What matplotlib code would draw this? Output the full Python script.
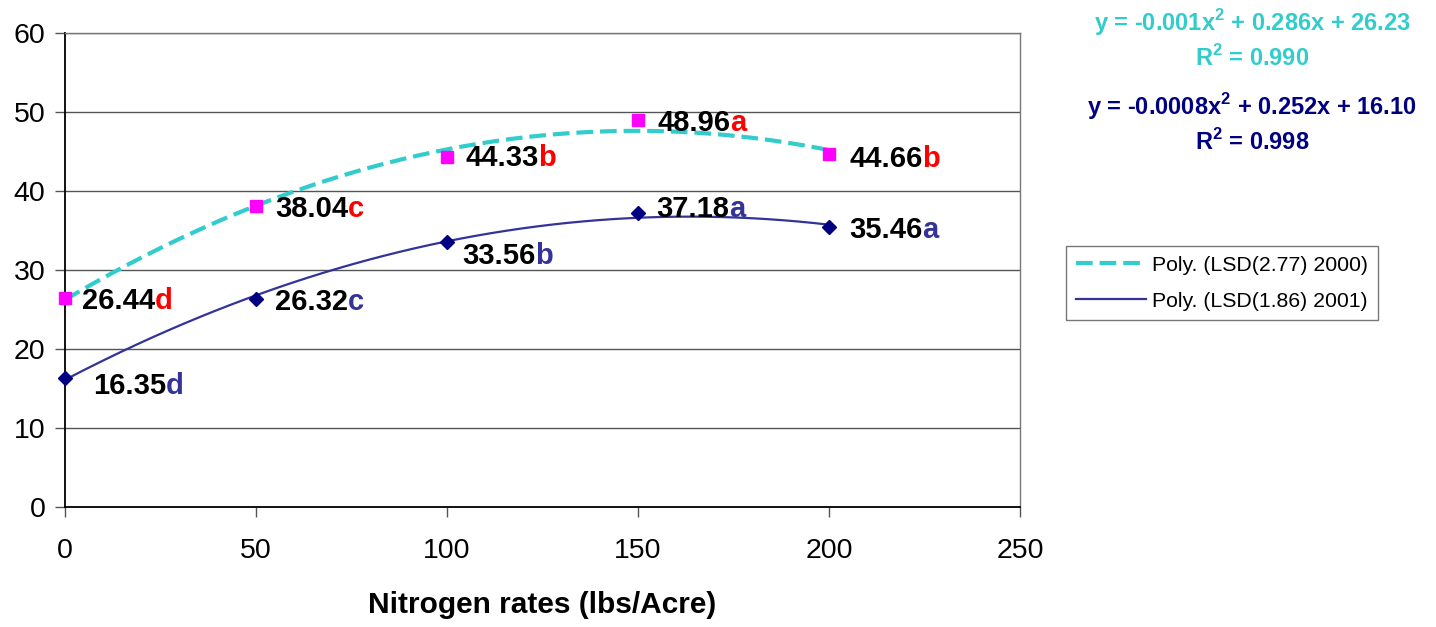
import numpy as np
import matplotlib
matplotlib.use('Agg')
import matplotlib.pyplot as plt

plt.rcParams['font.family'] = ['Liberation Sans', 'DejaVu Sans']
plt.rcParams['mathtext.fontset'] = 'custom'
plt.rcParams['mathtext.rm'] = 'Liberation Sans:bold'
plt.rcParams['mathtext.bf'] = 'Liberation Sans:bold'
plt.rcParams['lines.scale_dashes'] = False

# data
n_rates = [0, 50, 100, 150, 200]
yield_2000 = [26.44, 38.04, 44.33, 48.96, 44.66]
yield_2001 = [16.35, 26.32, 33.56, 37.18, 35.46]
letters_2000 = ['d', 'c', 'b', 'a', 'b']
letters_2001 = ['d', 'c', 'b', 'a', 'a']
legend_labels = ['Poly. (LSD(2.77) 2000)', 'Poly. (LSD(1.86) 2001)']
eq_2000 = 'y = -0.001x$^{2}$ + 0.286x + 26.23\nR$^{2}$ = 0.990'
eq_2001 = 'y = -0.0008x$^{2}$ + 0.252x + 16.10\nR$^{2}$ = 0.998'

# label offsets (pixels) from each point
offs_2000 = [(17, -3), (19, -3), (18, -1), (19, -3), (20, -5)]
offs_2001 = [(28, -8), (19, -3), (15, -14), (18, 4), (20, -3)]

cyan = '#33CCCC'
slate = '#333399'
red = '#FF0000'

fig = plt.figure(figsize=(14.36, 6.27), dpi=100)
ax = fig.add_axes([0.0453, 0.1914, 0.6650, 0.7560])

# polynomial trendlines (2nd order, like the spreadsheet)
xs = np.linspace(0, 200, 200)
c2000 = np.polyfit(n_rates, yield_2000, 2)
c2001 = np.polyfit(n_rates, yield_2001, 2)
l1, = ax.plot(xs, np.polyval(c2000, xs), color=cyan, lw=3, dashes=(12, 5), zorder=3)
l2, = ax.plot(xs, np.polyval(c2001, xs), color=slate, lw=1.6, zorder=3)

ax.plot(n_rates, yield_2000, ls='none', marker='s', ms=8, color='#FF00FF', zorder=4, clip_on=False)
ax.plot(n_rates, yield_2001, ls='none', marker='D', ms=7, color='#000080', zorder=4, clip_on=False)

def label_points(ys, letters, offs, lcolor):
    for x, y, let, off in zip(n_rates, ys, letters, offs):
        num = ax.annotate(f'{y:.2f}', xy=(x, y), xytext=off, textcoords='offset pixels',
                          ha='left', va='center', fontsize=21, fontweight='bold', color='black', zorder=5)
        ax.annotate(let, xy=(1, 0), xycoords=num, ha='left', va='bottom',
                    fontsize=21, fontweight='bold', color=lcolor, zorder=5)

label_points(yield_2000, letters_2000, offs_2000, red)
label_points(yield_2001, letters_2001, offs_2001, slate)

ax.set_xlim(0, 250)
ax.set_ylim(0, 60)
ax.set_xticks(range(0, 251, 50))
ax.set_yticks(range(0, 61, 10))
ax.yaxis.grid(True, color='#555555', lw=1)
ax.set_axisbelow(True)
for s in ['top', 'right']:
    ax.spines[s].set_color('#777777')
    ax.spines[s].set_linewidth(1)
for s in ['left', 'bottom']:
    ax.spines[s].set_color('black')
    ax.spines[s].set_linewidth(1.3)
ax.tick_params(axis='x', direction='out', length=7, width=1, pad=15, labelsize=20.5, color='#555555')
ax.tick_params(axis='y', direction='out', length=7, width=1, pad=7, labelsize=20.5, color='#555555')
ax.set_xlabel('Nitrogen rates (lbs/Acre)', fontsize=21.5, fontweight='bold', labelpad=20)

leg = fig.legend([l1, l2], legend_labels, loc='upper left', bbox_to_anchor=(1066 / 1436, 1 - 246 / 627),
                 fontsize=15.3, frameon=True, fancybox=False, edgecolor='#555555', handlelength=3.3,
                 borderpad=0.45, labelspacing=0.8, handletextpad=0.3, borderaxespad=0)
leg.get_frame().set_linewidth(1)

fig.text(1252 / 1436, 1 - 39 / 627, eq_2000, ha='center', va='center', fontsize=17,
         fontweight='bold', color=cyan, linespacing=1.35)
fig.text(1252 / 1436, 1 - 123 / 627, eq_2001, ha='center', va='center', fontsize=17,
         fontweight='bold', color='#000080', linespacing=1.35)

fig.savefig('out.png', dpi=100)
